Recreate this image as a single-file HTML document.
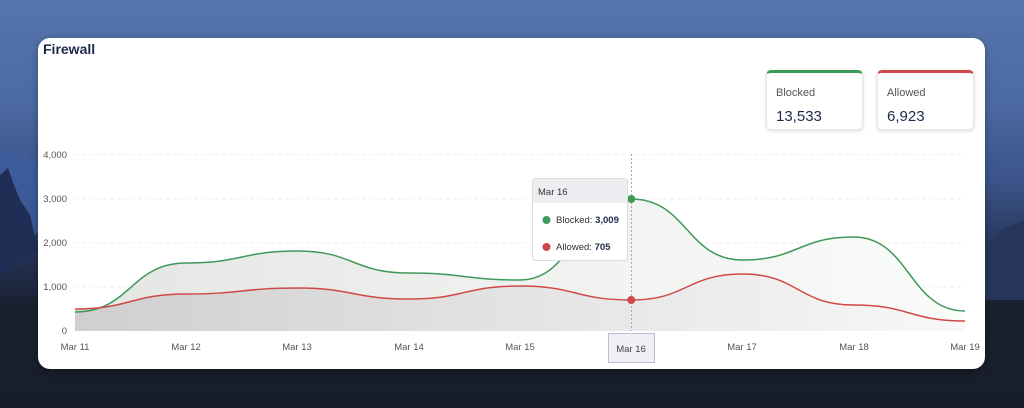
<!DOCTYPE html>
<html><head><meta charset="utf-8"><style>
html,body{margin:0;padding:0;width:1024px;height:408px;overflow:hidden;font-family:"Liberation Sans",sans-serif}
body{background:linear-gradient(180deg,#5575ad 0%,#4c6aa3 25%,#3a5387 45%,#243456 62%,#1a2030 75%,#181d29 100%);position:relative}
.card{position:absolute;left:38px;top:38px;width:947px;height:331px;background:#fff;border-radius:12px;box-shadow:0 2px 8px rgba(0,0,0,.3)}
.title{position:absolute;left:43px;top:41px;font-weight:bold;font-size:14px;color:#1c2a4a}
.stat{position:absolute;top:70px;width:97px;height:60px;background:#fff;border-radius:5px;box-shadow:0 1px 4px rgba(0,0,0,.15);border:1px solid #e6e6e6;box-sizing:border-box}
.stat .l{position:absolute;left:9px;top:14px;font-size:11px;color:#555}
.stat .v{position:absolute;left:9px;top:35px;font-size:15px;color:#1c2a4a}
</style></head><body>
<svg width="1024" height="408" style="position:absolute;left:0;top:0">
<path d="M0 155 L12 150 L40 162 L60 175 L80 210 L60 225 L40 230 L0 270 Z" fill="#3f5e9e" opacity=".8"/>
<path d="M0 175 L8 168 L14 185 L20 200 L30 215 L38 250 L0 275 Z" fill="#1e2e55"/>
<path d="M985 250 L1000 230 L1024 220 L1024 300 L985 300 Z" fill="#26365c"/>
</svg>
<div class="card"></div>
<div class="title">Firewall</div>
<svg width="1024" height="408" style="position:absolute;left:0;top:0;font-family:'Liberation Sans',sans-serif">
<defs>
<linearGradient id="g1" x1="0" x2="1"><stop offset="0" stop-color="#e4e6e4"/><stop offset="1" stop-color="#fafcfa"/></linearGradient>
<linearGradient id="g2" x1="0" x2="1"><stop offset="0" stop-color="#cfcfcf"/><stop offset="1" stop-color="#f9f8f8"/></linearGradient>
</defs>
<g stroke="#eee" stroke-dasharray="4 3" stroke-width="1">
<line x1="75" x2="965" y1="154.5" y2="154.5"/><line x1="75" x2="965" y1="199" y2="199"/><line x1="75" x2="965" y1="243" y2="243"/><line x1="75" x2="965" y1="287" y2="287"/>
</g>
<g font-size="9.5" fill="#555" text-anchor="end">
<text x="67" y="158">4,000</text><text x="67" y="202">3,000</text><text x="67" y="246">2,000</text><text x="67" y="290">1,000</text><text x="67" y="334">0</text>
</g>
<path id="b" d="M75 312 C130.6 312 130.6 263 186.25 263 C241.9 263 241.9 251 297.5 251 C353.1 251 353.1 273 408.75 273 C464.4 273 464.4 280 520 280 C575.6 280 575.6 199 631.25 199 C686.9 199 686.9 260 742.5 260 C798.1 260 798.1 237 853.75 237 C909.4 237 909.4 311 965 311 L965 331 L75 331 Z" fill="url(#g1)"/>
<path d="M75 309 C130.6 309 130.6 294 186.25 294 C241.9 294 241.9 288 297.5 288 C353.1 288 353.1 299 408.75 299 C464.4 299 464.4 286 520 286 C575.6 286 575.6 300 631.25 300 C686.9 300 686.9 274 742.5 274 C798.1 274 798.1 305 853.75 305 C909.4 305 909.4 321 965 321 L965 331 L75 331 Z" fill="url(#g2)"/>
<path d="M75 312 C130.6 312 130.6 263 186.25 263 C241.9 263 241.9 251 297.5 251 C353.1 251 353.1 273 408.75 273 C464.4 273 464.4 280 520 280 C575.6 280 575.6 199 631.25 199 C686.9 199 686.9 260 742.5 260 C798.1 260 798.1 237 853.75 237 C909.4 237 909.4 311 965 311" fill="none" stroke="#3f9a5a" stroke-width="1.5"/>
<path d="M75 309 C130.6 309 130.6 294 186.25 294 C241.9 294 241.9 288 297.5 288 C353.1 288 353.1 299 408.75 299 C464.4 299 464.4 286 520 286 C575.6 286 575.6 300 631.25 300 C686.9 300 686.9 274 742.5 274 C798.1 274 798.1 305 853.75 305 C909.4 305 909.4 321 965 321" fill="none" stroke="#d04848" stroke-width="1.5"/>
<line x1="631.5" x2="631.5" y1="154" y2="331" stroke="#aaa" stroke-dasharray="2 2"/>
<circle cx="631.25" cy="199" r="4" fill="#3f9a5a"/><circle cx="631.25" cy="300" r="4" fill="#d04848"/>
<g font-size="9.5" fill="#555" text-anchor="middle">
<text x="75" y="350">Mar 11</text><text x="186" y="350">Mar 12</text><text x="297" y="350">Mar 13</text><text x="409" y="350">Mar 14</text><text x="520" y="350">Mar 15</text><text x="742" y="350">Mar 17</text><text x="854" y="350">Mar 18</text><text x="965" y="350">Mar 19</text>
</g>
<rect x="608.5" y="333.5" width="46" height="29" fill="#eef0f3" stroke="#b8c0cc"/>
<text x="631" y="352" font-size="9.5" fill="#444" text-anchor="middle">Mar 16</text>
<g>
<rect x="532.5" y="178.5" width="95" height="82" rx="3" fill="#fff" stroke="#ddd"/>
<path d="M533 181 Q533 179 536 179 L624 179 Q627 179 627 181 L627 203 L533 203 Z" fill="#eceef1"/>
<text x="538" y="195" font-size="9.5" fill="#333">Mar 16</text>
<circle cx="546.5" cy="220" r="4" fill="#3f9a5a"/>
<text x="556" y="223" font-size="9.5" fill="#333">Blocked: <tspan font-weight="bold" fill="#1c2a4a">3,009</tspan></text>
<circle cx="546.5" cy="247" r="4" fill="#d04848"/>
<text x="556" y="250" font-size="9.5" fill="#333">Allowed: <tspan font-weight="bold" fill="#1c2a4a">705</tspan></text>
</g>
</svg>
<div class="stat" style="left:766px;border-top:3px solid #3f9a5a"><div class="l">Blocked</div><div class="v">13,533</div></div>
<div class="stat" style="left:877px;border-top:3px solid #d04848"><div class="l">Allowed</div><div class="v">6,923</div></div>
</body></html>
